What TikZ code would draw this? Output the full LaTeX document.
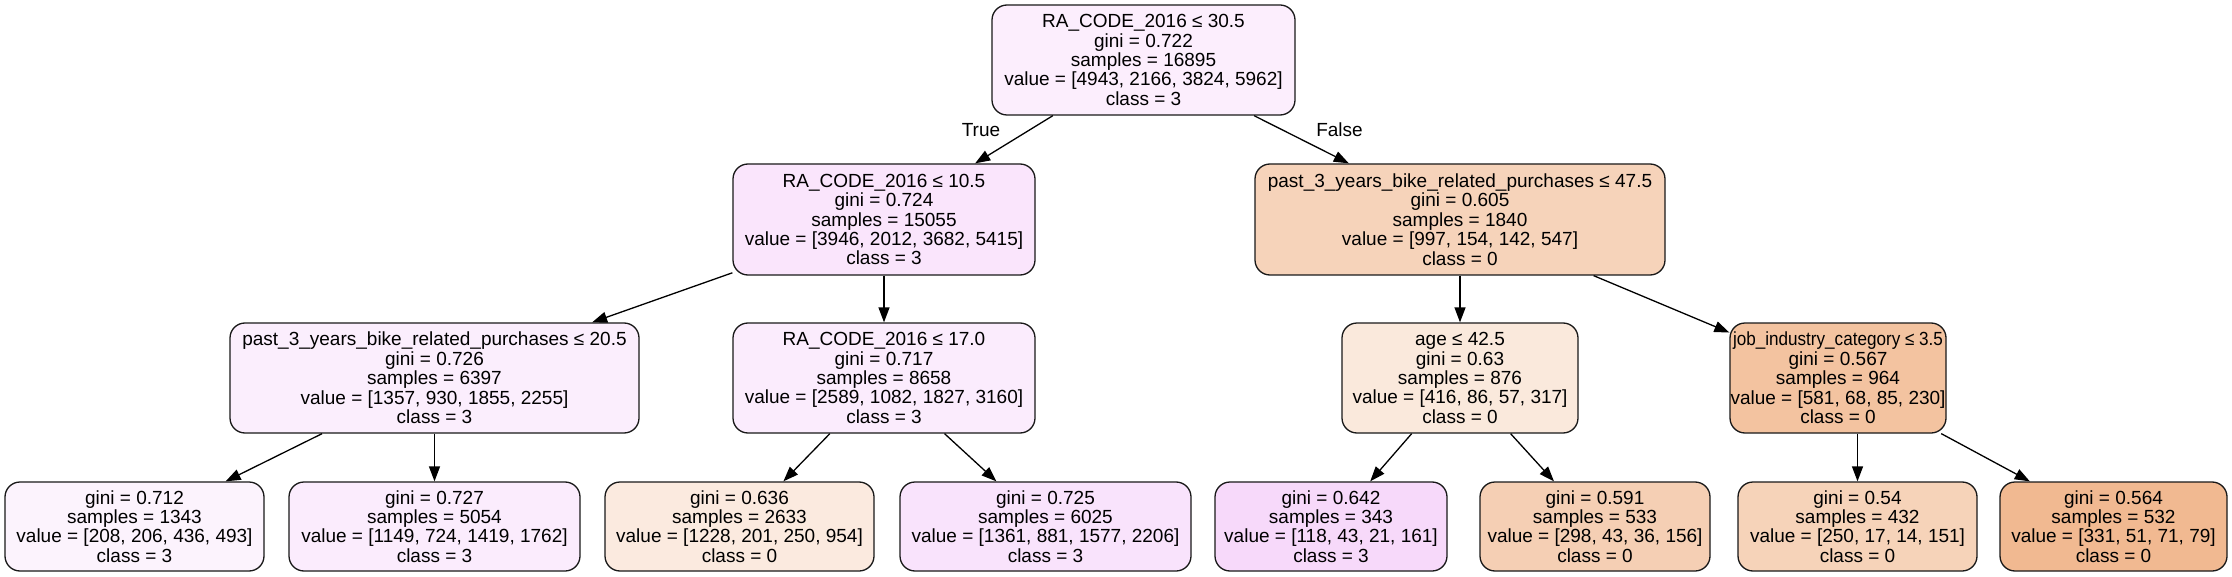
\documentclass[tikz,border=0pt]{standalone}
\usepackage{fontspec}
\setmainfont{Liberation Sans}
\usetikzlibrary{arrows.meta}
\definecolor{cRoot}{RGB}{252,238,253}
\definecolor{cLa}{RGB}{250,229,252}
\definecolor{cLb}{RGB}{246,211,186}
\definecolor{cMa}{RGB}{251,238,253}
\definecolor{cMb}{RGB}{251,236,253}
\definecolor{cMc}{RGB}{250,233,220}
\definecolor{cMd}{RGB}{243,195,160}
\definecolor{cFa}{RGB}{252,243,253}
\definecolor{cFb}{RGB}{251,236,253}
\definecolor{cFc}{RGB}{251,234,223}
\definecolor{cFd}{RGB}{249,227,252}
\definecolor{cFe}{RGB}{247,217,250}
\definecolor{cFf}{RGB}{245,207,180}
\definecolor{cFg}{RGB}{246,211,185}
\definecolor{cFh}{RGB}{241,185,145}
\begin{document}
\begin{tikzpicture}[x=1pt,y=-1pt,
  treenode/.style={draw=black!90, line width=1.3pt, rounded corners=15pt, align=center,
    inner sep=0pt, font=\fontsize{19}{19.4}\selectfont},
  inner/.style={treenode, minimum height=110pt},
  leaf/.style={treenode, minimum height=89pt},
  conn/.style={line width=1.3pt, -{Triangle[length=15pt,width=11pt]}},
  tflabel/.style={font=\fontsize{19}{19.4}\selectfont, inner sep=0pt}]
\useasboundingbox (0,0) rectangle (2232,577);
\fill[white] (0,0) rectangle (2232,577);

\node[inner, fill=cRoot, minimum width=303pt] (root) at (1143.5,60)
  {RA\_CODE\_2016 ≤ 30.5\\gini = 0.722\\samples = 16895\\value = [4943, 2166, 3824, 5962]\\class = 3};

\node[inner, fill=cLa, minimum width=302pt, minimum height=111pt] (la) at (884,219.5)
  {RA\_CODE\_2016 ≤ 10.5\\gini = 0.724\\samples = 15055\\value = [3946, 2012, 3682, 5415]\\class = 3};
\node[inner, fill=cLb, minimum width=410pt, minimum height=111pt] (lb) at (1460,219.5)
  {past\_3\_years\_bike\_related\_purchases ≤ 47.5\\gini = 0.605\\samples = 1840\\value = [997, 154, 142, 547]\\class = 0};

\node[inner, fill=cMa, minimum width=409pt] (ma) at (434.5,378)
  {past\_3\_years\_bike\_related\_purchases ≤ 20.5\\gini = 0.726\\samples = 6397\\value = [1357, 930, 1855, 2255]\\class = 3};
\node[inner, fill=cMb, minimum width=302pt] (mb) at (884,378)
  {RA\_CODE\_2016 ≤ 17.0\\gini = 0.717\\samples = 8658\\value = [2589, 1082, 1827, 3160]\\class = 3};
\node[inner, fill=cMc, minimum width=236pt] (mc) at (1460,378)
  {age ≤ 42.5\\gini = 0.63\\samples = 876\\value = [416, 86, 57, 317]\\class = 0};
\node[inner, fill=cMd, minimum width=216pt] (md) at (1838,378)
  {\scalebox{0.9}[1]{job\_industry\_category ≤ 3.5}\\gini = 0.567\\samples = 964\\value = [581, 68, 85, 230]\\class = 0};

\node[leaf, fill=cFa, minimum width=259pt] (fa) at (134.5,526.5)
  {gini = 0.712\\samples = 1343\\value = [208, 206, 436, 493]\\class = 3};
\node[leaf, fill=cFb, minimum width=291pt] (fb) at (434.5,526.5)
  {gini = 0.727\\samples = 5054\\value = [1149, 724, 1419, 1762]\\class = 3};
\node[leaf, fill=cFc, minimum width=269pt] (fc) at (739.5,526.5)
  {gini = 0.636\\samples = 2633\\value = [1228, 201, 250, 954]\\class = 0};
\node[leaf, fill=cFd, minimum width=291pt] (fd) at (1045.5,526.5)
  {gini = 0.725\\samples = 6025\\value = [1361, 881, 1577, 2206]\\class = 3};
\node[leaf, fill=cFe, minimum width=232pt] (fe) at (1331,526.5)
  {gini = 0.642\\samples = 343\\value = [118, 43, 21, 161]\\class = 3};
\node[leaf, fill=cFf, minimum width=230pt] (ff) at (1595,526.5)
  {gini = 0.591\\samples = 533\\value = [298, 43, 36, 156]\\class = 0};
\node[leaf, fill=cFg, minimum width=239pt] (fg) at (1857.5,526.5)
  {gini = 0.54\\samples = 432\\value = [250, 17, 14, 151]\\class = 0};
\node[leaf, fill=cFh, minimum width=227pt] (fh) at (2113.5,526.5)
  {gini = 0.564\\samples = 532\\value = [331, 51, 71, 79]\\class = 0};

\draw[conn] (root) -- (la);
\draw[conn] (root) -- (lb);
\draw[conn] (la) -- (ma);
\draw[conn] (la) -- (mb);
\draw[conn] (lb) -- (mc);
\draw[conn] (lb) -- (md);
\draw[conn] (ma) -- (fa);
\draw[conn] (ma) -- (fb);
\draw[conn] (mb) -- (fc);
\draw[conn] (mb) -- (fd);
\draw[conn] (mc) -- (fe);
\draw[conn] (mc) -- (ff);
\draw[conn] (fg.north |- md.south) -- (fg.north);
\draw[conn] (md) -- (fh);

\node[tflabel] (ltrue) at (981,130) {True};
\node[tflabel] (lfalse) at (1339.5,130) {False};
\end{tikzpicture}
\end{document}
